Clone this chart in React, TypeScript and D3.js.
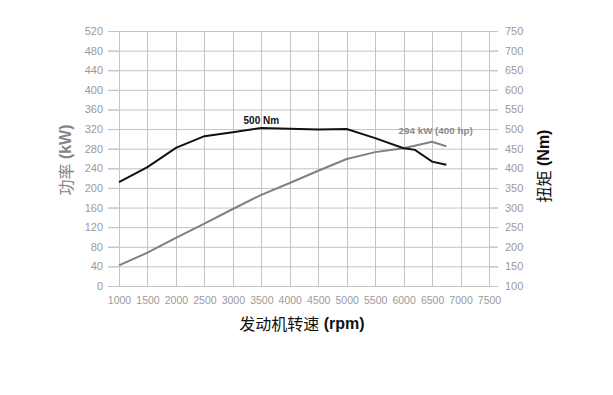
import React, { useEffect, useRef } from "react";
import * as d3 from "d3";

// Engine power (kW, left) and torque (Nm, right) against engine speed.
const rpm = [1000, 1500, 2000, 2500, 3000, 3500, 4000, 4500, 5000, 5500, 6000, 6200, 6500, 6750];
const torqueNm = [365, 403, 452, 482, 492, 503, 501, 499, 500, 477, 451, 447, 417, 409];
const powerRpm = [1000, 1500, 2000, 2500, 3000, 3500, 4000, 4500, 5000, 5500, 6000, 6500, 6750];
const powerKw = [42, 68, 98, 127, 157, 186, 210, 235, 259, 273, 281, 294, 285];

const xTicks = d3.range(1000, 7501, 500);
const leftTicks = d3.range(0, 521, 40);
const rightTicks = d3.range(100, 751, 50);

const FONT = "'Liberation Sans', Arial, sans-serif";
const CJK = "'Noto Sans CJK SC', 'DejaVu Sans', sans-serif";

export default function App() {
  const ref = useRef<SVGSVGElement>(null);

  useEffect(() => {
    const svg = d3.select(ref.current);
    svg.selectAll("*").remove();

    const x = d3.scaleLinear().domain([1000, 7500]).range([119, 489]);
    const yL = d3.scaleLinear().domain([0, 520]).range([286, 31]);
    const yR = d3.scaleLinear().domain([100, 750]).range([286, 31]);
    const grid = "#c4c4c4";

    // grid
    svg
      .append("g")
      .selectAll("line")
      .data(leftTicks)
      .join("line")
      .attr("x1", 108)
      .attr("x2", 498)
      .attr("y1", (d) => yL(d) + 0.5)
      .attr("y2", (d) => yL(d) + 0.5)
      .attr("stroke", grid);
    svg
      .append("g")
      .selectAll("line")
      .data(xTicks)
      .join("line")
      .attr("x1", (d) => Math.round(x(d)) + 0.5)
      .attr("x2", (d) => Math.round(x(d)) + 0.5)
      .attr("y1", 31)
      .attr("y2", 287)
      .attr("stroke", grid);

    // axes (labels only, the lines come from the grid)
    const left = svg
      .append("g")
      .attr("transform", "translate(119,0)")
      .call(d3.axisLeft(yL).tickValues(leftTicks).tickSize(11).tickPadding(5));
    const right = svg
      .append("g")
      .attr("transform", "translate(489,0)")
      .call(d3.axisRight(yR).tickValues(rightTicks).tickSize(9).tickPadding(7));
    const bottom = svg
      .append("g")
      .attr("transform", "translate(0,286)")
      .call(d3.axisBottom(x).tickValues(xTicks).tickFormat(d3.format("d")).tickSize(0).tickPadding(11));
    for (const g of [left, right, bottom]) {
      g.select(".domain").attr("stroke", grid);
      g.selectAll("line").attr("stroke", grid);
      g.selectAll("text").attr("fill", "#9a9a9a").attr("font-family", FONT).attr("font-size", 11);
    }
    bottom.selectAll("text").attr("font-size", 10.5);
    bottom.select(".domain").attr("d", "M108,0.5H498");

    const line = d3
      .line<[number, number]>()
      .x((d) => x(d[0]))
      .y((d) => d[1]);

    svg
      .append("path")
      .attr("d", line(powerRpm.map((r, i) => [r, yL(powerKw[i])])))
      .attr("fill", "none")
      .attr("stroke", "#808080")
      .attr("stroke-width", 2);
    svg
      .append("path")
      .attr("d", line(rpm.map((r, i) => [r, yR(torqueNm[i])])))
      .attr("fill", "none")
      .attr("stroke", "#111")
      .attr("stroke-width", 2);

    // annotations
    svg
      .append("text")
      .attr("x", x(3500))
      .attr("y", yR(503) - 4)
      .attr("text-anchor", "middle")
      .attr("font-family", FONT)
      .attr("font-weight", "bold")
      .attr("font-size", 10)
      .attr("fill", "#111")
      .text("500 Nm");
    svg
      .append("text")
      .attr("x", x(6000) - 5)
      .attr("y", yL(294) - 8)
      .attr("font-family", FONT)
      .attr("font-weight", "bold")
      .attr("font-size", 9.8)
      .attr("fill", "#8a8a8a")
      .text("294 kW (400 hp)");

    // titles
    const title = (tx: number, ty: number, rot: number, cn: string, unit: string, color: string) => {
      const t = svg
        .append("text")
        .attr("transform", `translate(${tx},${ty}) rotate(${rot})`)
        .attr("text-anchor", "middle")
        .attr("dominant-baseline", "central")
        .attr("font-size", 16)
        .attr("fill", color);
      t.append("tspan").attr("font-family", CJK).text(cn);
      t.append("tspan").attr("font-family", FONT).attr("font-weight", "bold").text(" " + unit);
    };
    title(302, 323, 0, "发动机转速", "(rpm)", "#111");
    title(65, 160, -90, "功率", "(kW)", "#858585");
    title(543, 166, -90, "扭矩", "(Nm)", "#111");
  }, []);

  return (
    <svg
      ref={ref}
      width={613}
      height={395}
      style={{ position: "absolute", left: 0, top: 0, background: "#fff" }}
    />
  );
}
